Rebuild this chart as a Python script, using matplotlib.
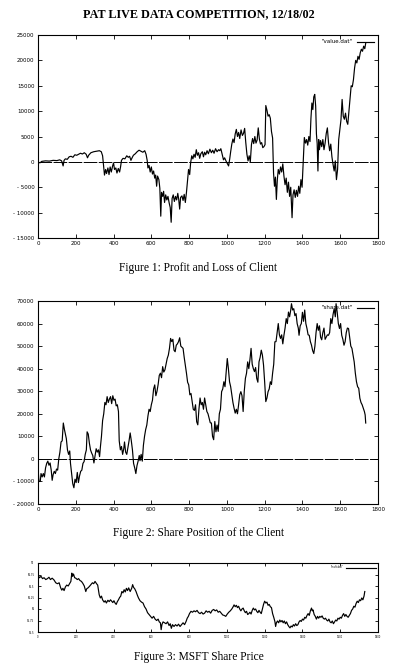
import numpy as np
import matplotlib
matplotlib.use("Agg")
import matplotlib.pyplot as plt

# ---- data ----
pnl_x = [0, 10, 20, 40, 60, 80, 100, 115, 125, 133, 138, 145, 155, 165, 175, 185, 195, 205, 215, 225,
         235, 245, 255, 262, 268, 280, 295, 310, 325, 335, 342, 348, 352, 358, 363, 370, 376, 382, 388, 395,
         400, 405, 412, 418, 425, 432, 437, 442, 450, 460, 470, 478, 485, 492, 498, 505, 515, 525, 535, 545,
         555, 565, 572, 578, 582, 588, 594, 600, 606, 612, 618, 623, 628, 633, 640, 645, 650, 654, 660, 665,
         670, 676, 682, 688, 695, 700, 705, 710, 716, 722, 728, 734, 740, 745, 750, 755, 762, 768, 774, 780,
         786, 792, 797, 803, 808, 814, 820, 826, 832, 838, 844, 850, 856, 862, 870, 876, 882, 888, 895, 902,
         910, 918, 925, 932, 940, 948, 956, 962, 968, 975, 982, 988, 995, 1002, 1009, 1015, 1020, 1026, 1032, 1038,
         1044, 1050, 1056, 1062, 1068, 1075, 1082, 1088, 1094, 1100, 1106, 1112, 1118, 1124, 1130, 1136, 1142, 1148, 1154, 1160,
         1166, 1172, 1178, 1184, 1190, 1196, 1202, 1206, 1212, 1218, 1224, 1230, 1236, 1242, 1247, 1252, 1257, 1262, 1267, 1272,
         1278, 1284, 1290, 1296, 1302, 1308, 1314, 1320, 1326, 1332, 1338, 1345, 1350, 1356, 1362, 1368, 1374, 1380, 1386, 1392,
         1398, 1404, 1410, 1416, 1422, 1428, 1434, 1440, 1445, 1450, 1455, 1460, 1465, 1470, 1474, 1478, 1482, 1486, 1490, 1496,
         1502, 1508, 1514, 1520, 1526, 1532, 1538, 1544, 1550, 1556, 1562, 1568, 1574, 1580, 1586, 1592, 1598, 1604, 1610, 1616,
         1622, 1628, 1634, 1640, 1646, 1652, 1658, 1664, 1670, 1676, 1682, 1688, 1694, 1700, 1706, 1712, 1718, 1724, 1730, 1735]
pnl_y = [0, -200, 100, 200, 150, 300, 250, 400, 200, -800, 300, 600, 500, 1000, 1100, 900, 1400, 1300, 1500, 1700,
         1550, 1800, 1500, 800, 1300, 1800, 2000, 2100, 2200, 2000, 1200, -1000, -2600, -1500, -2300, -1200, -2500, -1000, -2000, -800,
         -200, -1500, -1200, -2200, -1300, -2000, -1000, 300, 700, 600, 1200, 900, 1100, 300, 800, 1300, 1600, 2000, 2300, 2100,
         1900, 2200, 1500, 300, -1200, -700, -2000, -1000, -2400, -1800, -3200, -2600, -4800, -2800, -3500, -5200, -10700, -6000, -6800, -5800,
         -8000, -6500, -7500, -6800, -8200, -9000, -11900, -7200, -6500, -7800, -6800, -7500, -6200, -7400, -9300, -7000, -6700, -7600, -6400, -8000,
         -6000, -3500, -1500, -2500, -200, 1200, 600, 1500, 900, 2400, 1300, 1800, 700, 1600, 2000, 1000, 1900, 1400, 2200, 1600,
         2500, 1800, 2300, 1700, 2600, 2000, 2400, 2200, 2600, 1500, 400, 800, 200, -300, -800, 600, 2000, 3500, 4500, 3800,
         5500, 6400, 5000, 5800, 4600, 6300, 5200, 5600, 6600, 3800, 1500, 200, 1200, 0, 3400, 4600, 3600, 5000, 3700, 4300,
         6700, 4500, 3500, 3800, 2800, 3000, 3400, 11100, 10200, 9000, 9300, 8600, 6000, 4700, -2200, -4800, -3000, -7400, -3500, -1500,
         -2400, -1000, -2000, -400, -2800, -4500, -3200, -6000, -4000, -6800, -5000, -11000, -6500, -5500, -7000, -5600, -6800, -4800, -6200, -3500,
         -5000, -200, 4800, 3700, 4400, 3300, 5000, 4000, 8600, 11600, 10300, 12800, 13300, 11000, 5500, 3600, -1800, 4400, 2400, 4200,
         3000, 4400, 2400, 3700, 5600, 6700, 3800, 2200, 3500, 1000, -500, -1800, 200, -3500, -1500, 4400, 6400, 8300, 12300, 9000,
         8400, 9600, 8000, 7400, 10000, 12600, 15000, 14800, 16200, 18500, 20000, 19500, 20800, 20200, 21500, 22200, 21800, 22800, 22300, 23400]

share_x = [0, 5, 12, 16, 22, 28, 34, 40, 46, 52, 58, 64, 70, 75, 80, 86, 92, 98, 104, 110,
           116, 122, 128, 134, 140, 146, 150, 156, 162, 168, 172, 178, 184, 190, 196, 202, 208, 214, 220, 226,
           232, 238, 244, 250, 256, 260, 266, 272, 278, 284, 290, 296, 302, 308, 314, 320, 326, 330, 336, 342,
           348, 354, 360, 366, 372, 378, 384, 390, 396, 402, 408, 414, 420, 426, 430, 436, 442, 448, 454, 458,
           464, 470, 476, 482, 488, 494, 500, 506, 512, 518, 524, 530, 536, 540, 546, 552, 558, 564, 570, 576,
           582, 588, 594, 600, 606, 612, 618, 624, 630, 636, 642, 648, 654, 660, 666, 672, 678, 684, 690, 696,
           702, 708, 714, 720, 726, 732, 738, 744, 750, 756, 762, 768, 774, 780, 786, 792, 798, 804, 810, 816,
           822, 828, 834, 840, 846, 852, 858, 864, 870, 876, 882, 888, 894, 900, 906, 912, 918, 924, 930, 936,
           942, 948, 954, 960, 966, 972, 978, 984, 990, 996, 1002, 1008, 1014, 1020, 1026, 1032, 1038, 1044, 1050, 1056,
           1062, 1068, 1074, 1080, 1086, 1092, 1098, 1104, 1110, 1116, 1122, 1128, 1134, 1140, 1146, 1152, 1158, 1164, 1170, 1176,
           1182, 1188, 1194, 1200, 1206, 1212, 1218, 1224, 1230, 1236, 1242, 1248, 1254, 1260, 1266, 1272, 1278, 1284, 1290, 1296,
           1302, 1308, 1314, 1320, 1326, 1332, 1338, 1342, 1348, 1354, 1360, 1366, 1372, 1378, 1382, 1388, 1394, 1400, 1406, 1412,
           1418, 1424, 1430, 1436, 1442, 1448, 1454, 1460, 1466, 1472, 1478, 1484, 1490, 1496, 1502, 1508, 1514, 1520, 1526, 1532,
           1538, 1544, 1550, 1556, 1562, 1568, 1574, 1578, 1584, 1590, 1596, 1602, 1608, 1614, 1620, 1626, 1632, 1638, 1644, 1650,
           1656, 1662, 1668, 1674, 1680, 1686, 1692, 1698, 1704, 1710, 1716, 1722, 1728, 1732, 1735]
share_y = [-4000, -10000, -10000, -6500, -8000, -6500, -8000, -4000, -2000, -1000, -2800, -1800, -5000, -9500, -7000, -5500, -6500, -4500, -5000, 0,
           3000, 7500, 8000, 15900, 13000, 10500, 9000, 4000, 2000, 3500, -2000, -6500, -11000, -12800, -9000, -10500, -6000, -10500, -7500, -5500,
           -5000, -2000, -1200, 2000, 4000, 12000, 11000, 7000, 4000, 2600, 1500, -1800, 1500, 4500, 3000, 4000, 1000, 5000, 10000, 17000,
           20000, 25000, 24000, 27600, 25000, 26500, 27600, 24500, 28000, 26000, 26500, 23500, 24000, 21000, 8000, 4000, 5500, 2000, 4500, 7500,
           3000, 2000, 5000, 8000, 11500, 8000, 4000, -2000, -4000, -6500, -3000, -1000, 1500, -800, 2000, -1000, 6000, 10000, 13000, 15000,
           19000, 22000, 21000, 24000, 26000, 31000, 32800, 28000, 30000, 33000, 37000, 38000, 36000, 40900, 38500, 39500, 42000, 44500, 46000, 49000,
           53400, 52000, 53000, 48200, 47500, 50400, 51000, 52000, 53700, 50000, 49500, 49000, 45000, 41600, 38000, 34000, 32800, 28400, 29000, 25400,
           22000, 21500, 24000, 16500, 15100, 22000, 27000, 24000, 25000, 22000, 27000, 24000, 21000, 20000, 18000, 16000, 15900, 10000, 8500, 16600,
           12000, 15000, 12200, 20000, 22000, 29800, 31000, 34200, 32000, 38000, 44500, 40000, 34200, 32000, 28400, 25000, 22500, 20300, 22000, 20000,
           24000, 28400, 29800, 28000, 21000, 30000, 35700, 38000, 43000, 40000, 44000, 49000, 42000, 40000, 38700, 40500, 35700, 34000, 43000, 45000,
           48200, 46000, 41600, 34000, 25400, 27000, 29800, 31000, 34200, 33000, 38000, 42000, 51900, 52000, 56000, 60000, 55000, 53400, 55000, 51000,
           54800, 58000, 62200, 60000, 65100, 63000, 66000, 68800, 66000, 66600, 63500, 64400, 60000, 58000, 54800, 59000, 60000, 65000, 61000, 66000,
           60000, 57800, 55000, 54800, 52000, 50400, 48000, 46700, 50000, 56000, 60000, 57000, 59000, 54000, 52800, 56000, 58000, 53000, 54000, 55000,
           54800, 56000, 62200, 60000, 64000, 66600, 63000, 68800, 65000, 60000, 57800, 60000, 54800, 53000, 50400, 52000, 56000, 58000, 57800, 54000,
           50000, 49000, 46000, 43000, 38000, 34200, 32000, 31300, 26900, 25000, 24000, 22500, 21000, 19500, 15900]

msft_x = [0, 8, 16, 24, 32, 41, 50, 58, 66, 75, 85, 94, 103, 112, 120, 126, 132, 138, 145, 152,
          160, 168, 174, 179, 183, 188, 194, 200, 208, 215, 222, 230, 237, 245, 253, 258, 265, 272, 280, 288,
          295, 302, 310, 316, 324, 330, 336, 342, 350, 356, 362, 370, 377, 384, 390, 396, 402, 408, 414, 420,
          426, 432, 438, 444, 450, 456, 462, 468, 474, 480, 488, 496, 501, 506, 512, 519, 526, 532, 540, 548,
          556, 564, 572, 580, 588, 596, 604, 612, 620, 628, 636, 642, 648, 652, 656, 662, 670, 678, 686, 694,
          700, 706, 712, 720, 728, 736, 744, 752, 760, 768, 776, 784, 790, 796, 802, 810, 818, 826, 834, 842,
          850, 858, 866, 874, 882, 890, 898, 906, 914, 922, 930, 938, 946, 954, 962, 970, 978, 986, 994, 1002,
          1010, 1018, 1026, 1032, 1038, 1044, 1050, 1056, 1062, 1068, 1074, 1080, 1086, 1092, 1098, 1104, 1110, 1116, 1122, 1128,
          1134, 1140, 1146, 1152, 1158, 1164, 1170, 1176, 1182, 1188, 1194, 1200, 1206, 1212, 1218, 1224, 1230, 1236, 1242, 1248,
          1254, 1258, 1262, 1268, 1274, 1280, 1286, 1292, 1298, 1304, 1310, 1316, 1322, 1328, 1334, 1340, 1346, 1352, 1358, 1364,
          1370, 1376, 1382, 1388, 1394, 1400, 1406, 1412, 1418, 1424, 1430, 1436, 1442, 1448, 1452, 1456, 1462, 1468, 1474, 1480,
          1486, 1492, 1498, 1504, 1510, 1516, 1522, 1528, 1534, 1540, 1546, 1552, 1558, 1564, 1570, 1576, 1582, 1588, 1594, 1600,
          1606, 1612, 1618, 1624, 1630, 1636, 1642, 1648, 1654, 1660, 1666, 1672, 1678, 1684, 1690, 1696, 1702, 1708, 1714, 1720,
          1726, 1730]
msft_y = [56.73, 56.68, 56.71, 56.66, 56.68, 56.64, 56.66, 56.69, 56.64, 56.67, 56.63, 56.57, 56.55, 56.57, 56.46, 56.41, 56.45, 56.40, 56.48, 56.52,
          56.50, 56.56, 56.60, 56.78, 56.71, 56.76, 56.68, 56.67, 56.64, 56.66, 56.62, 56.60, 56.56, 56.50, 56.38, 56.44, 56.46, 56.49, 56.53, 56.57,
          56.55, 56.60, 56.55, 56.52, 56.31, 56.24, 56.28, 56.20, 56.15, 56.18, 56.13, 56.19, 56.16, 56.20, 56.17, 56.14, 56.18, 56.13, 56.10, 56.16,
          56.20, 56.25, 56.28, 56.38, 56.35, 56.42, 56.37, 56.45, 56.40, 56.46, 56.38, 56.45, 56.53, 56.47, 56.44, 56.38, 56.30, 56.24, 56.18, 56.15,
          56.13, 56.05, 56.00, 55.92, 55.88, 55.84, 55.80, 55.84, 55.78, 55.75, 55.78, 55.72, 55.70, 55.55, 55.66, 55.72, 55.70, 55.68, 55.72, 55.64,
          55.68, 55.58, 55.66, 55.62, 55.66, 55.63, 55.67, 55.62, 55.66, 55.70, 55.66, 55.73, 55.80, 55.84, 55.90, 55.95, 55.93, 55.96, 55.94, 55.97,
          55.92, 55.90, 55.93, 55.89, 55.91, 55.96, 55.93, 55.95, 55.91, 55.97, 55.99, 55.96, 55.98, 55.93, 55.95, 55.91, 55.87, 55.86, 55.84, 55.89,
          55.93, 55.96, 56.00, 56.04, 56.09, 56.05, 56.08, 56.03, 56.06, 56.00, 55.96, 56.00, 56.02, 55.96, 55.92, 55.95, 55.88, 55.90, 55.93, 55.89,
          55.97, 56.02, 55.98, 56.00, 55.95, 55.92, 55.97, 55.93, 55.90, 56.00, 56.10, 56.17, 56.13, 56.15, 56.08, 56.10, 56.05, 56.03, 55.90, 55.82,
          55.73, 55.62, 55.70, 55.74, 55.70, 55.76, 55.72, 55.75, 55.70, 55.74, 55.68, 55.72, 55.66, 55.62, 55.59, 55.63, 55.61, 55.66, 55.63, 55.68,
          55.64, 55.66, 55.72, 55.75, 55.73, 55.78, 55.76, 55.82, 55.80, 55.86, 55.90, 55.86, 55.96, 56.02, 55.96, 55.98, 55.88, 55.84, 55.78, 55.84,
          55.80, 55.84, 55.82, 55.85, 55.80, 55.78, 55.80, 55.76, 55.74, 55.78, 55.72, 55.70, 55.74, 55.68, 55.72, 55.76, 55.74, 55.80, 55.78, 55.82,
          55.80, 55.86, 55.90, 55.84, 55.88, 55.84, 55.82, 55.86, 55.90, 55.97, 56.00, 56.06, 56.04, 56.12, 56.17, 56.14, 56.20, 56.18, 56.24, 56.20,
          56.28, 56.38]

x_ticks = [0, 200, 400, 600, 800, 1000, 1200, 1400, 1600, 1800]
pnl_ticks = [-15000, -10000, -5000, 0, 5000, 10000, 15000, 20000, 25000]
share_ticks = [-20000, -10000, 0, 10000, 20000, 30000, 40000, 50000, 60000, 70000]
msft_ticks = [55.5, 55.75, 56, 56.25, 56.5, 56.75, 57]

title = "PAT LIVE DATA COMPETITION, 12/18/02"
captions = ["Figure 1: Profit and Loss of Client",
            "Figure 2: Share Position of the Client",
            "Figure 3: MSFT Share Price"]

serif = ["Liberation Serif", "DejaVu Serif"]


def tick_label(v):
    # gnuplot style: "- 15000"
    s = "%g" % v
    if s.startswith("-"):
        s = "- " + s[1:]
    return s


def setup_axes(ax, yticks, ylim, fs):
    ax.set_xlim(0, 1800)
    ax.set_ylim(*ylim)
    ax.set_xticks(x_ticks)
    ax.set_xticklabels([tick_label(v) for v in x_ticks])
    ax.set_yticks(yticks)
    ax.set_yticklabels([tick_label(v) for v in yticks])
    ax.tick_params(direction="in", top=True, right=True, length=3, width=0.6,
                   labelsize=fs, pad=2.5)
    for sp in ax.spines.values():
        sp.set_linewidth(0.8)


fig = plt.figure(figsize=(3.97, 6.72), dpi=100)

fig.text(0.5, 1 - 14 / 672, title, ha="center", va="center", family=serif,
         fontsize=8.7, fontweight="bold")

# Figure 1
ax1 = fig.add_axes([38 / 397, 1 - 238 / 672, 340 / 397, 203 / 672])
ax1.plot(pnl_x, pnl_y, color="black", lw=0.85, label='"value.dat"')
ax1.axhline(0, color="black", lw=0.7, ls=(0, (14, 1.5)))
setup_axes(ax1, pnl_ticks, (-15000, 25000), 4.0)
ax1.legend(loc="upper right", frameon=False, fontsize=4.0, markerfirst=False,
           handlelength=3, borderaxespad=0.4)
fig.text(0.5, 1 - 268 / 672, captions[0], ha="center", va="center", family=serif, fontsize=8.3)

# Figure 2
ax2 = fig.add_axes([38 / 397, 1 - 504 / 672, 340 / 397, 203 / 672])
ax2.plot(share_x, share_y, color="black", lw=0.85, label='"share.dat"')
ax2.axhline(0, color="black", lw=0.7, ls=(0, (14, 1.5)))
setup_axes(ax2, share_ticks, (-20000, 70000), 4.0)
ax2.legend(loc="upper right", frameon=False, fontsize=4.0, markerfirst=False,
           handlelength=3, borderaxespad=0.4)
fig.text(0.5, 1 - 533 / 672, captions[1], ha="center", va="center", family=serif, fontsize=8.3)

# Figure 3 (labels are tiny in the original)
ax3 = fig.add_axes([38 / 397, 1 - 632 / 672, 340 / 397, 69 / 672])
ax3.plot(msft_x, msft_y, color="black", lw=0.85, label='"msft.dat"')
setup_axes(ax3, msft_ticks, (55.5, 57), 1.8)
ax3.tick_params(length=2.2)
ax3.legend(loc="upper right", frameon=False, fontsize=1.8, markerfirst=False,
           handlelength=12, borderaxespad=0.6)
fig.text(0.5, 1 - 657 / 672, captions[2], ha="center", va="center", family=serif, fontsize=8.3)

fig.savefig("out.png", dpi=100)
